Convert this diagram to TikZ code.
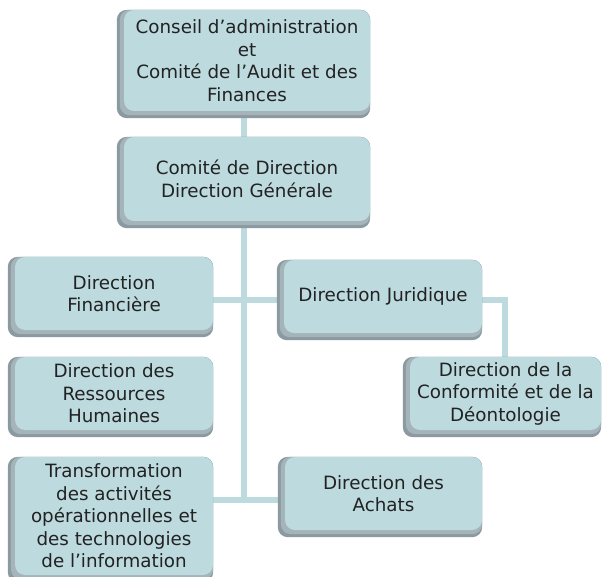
\documentclass[tikz,border=0pt]{standalone}
\usepackage{fontspec}
\setmainfont{DejaVu Sans}
\definecolor{face}{HTML}{BDDADE}
\definecolor{shA}{HTML}{8A9AA0}
\definecolor{shB}{HTML}{A4B4B9}
\definecolor{txt}{HTML}{222222}
\pgfdeclarelayer{bg}
\pgfdeclarelayer{sh}
\pgfsetlayers{bg,sh,main}
\tikzset{
  unitbox/.style={fill=face, rounded corners=10pt, align=center, inner sep=0pt,
    font=\fontsize{18.3}{22.5}\selectfont, text=txt},
  conn/.style={draw=face, line width=6pt},
}
\newcommand\shadowfor[1]{%
  \begin{pgfonlayer}{sh}
    \fill[shA, rounded corners=10pt] ([xshift=-7pt]#1.north west) rectangle ([yshift=-7pt]#1.south east);
    \fill[shB, rounded corners=10pt] ([xshift=-4pt]#1.north west) rectangle ([yshift=-4pt]#1.south east);
  \end{pgfonlayer}}
\begin{document}
\begin{tikzpicture}[x=1pt,y=-1pt]
\useasboundingbox (0,0) rectangle (602,577);

\node[unitbox, minimum width=246pt, minimum height=101pt] (b1) at (247,60.5)
  {Conseil d’administration\\et\\Comité de l’Audit et des\\Finances};
\node[unitbox, minimum width=246pt, minimum height=84pt] (b2) at (247,179)
  {Comité de Direction\\Direction Générale};
\node[unitbox, minimum width=198pt, minimum height=73pt] (fin) at (114,293.5)
  {Direction\\Financière};
\node[unitbox, minimum width=198pt, minimum height=73pt] (rh) at (114,393.5)
  {Direction des\\Ressources\\Humaines};
\node[unitbox, minimum width=198pt, minimum height=118pt] (tr) at (114,516)
  {Transformation\\des activités\\opérationnelles et\\des technologies\\de l’information};
\node[unitbox, minimum width=198pt, minimum height=73pt] (jur) at (383,296.5)
  {Direction Juridique};
\node[unitbox, minimum width=191pt, minimum height=73pt] (conf) at (505.5,393.5)
  {Direction de la\\Conformité et de la\\Déontologie};
\node[unitbox, minimum width=197pt, minimum height=73pt] (ach) at (383.5,493.5)
  {Direction des\\Achats};

\shadowfor{b1}\shadowfor{b2}\shadowfor{fin}\shadowfor{rh}
\shadowfor{tr}\shadowfor{jur}\shadowfor{conf}\shadowfor{ach}

\coordinate (sp) at (244,0);
\coordinate (j1) at (244,300);
\coordinate (j2) at (244,500);
\coordinate (jc) at (505,300);
\begin{pgfonlayer}{bg}
  \fill[white] (0,0) rectangle (602,577);
  \draw[conn] (b1.south -| sp) -- (b2.north -| sp);
  \draw[conn] (b2.south -| sp) -- ([yshift=-3pt]j2);
  \draw[conn] (fin.east |- j1) -- (jur.west |- j1);
  \draw[conn] (tr.east |- j2) -- (ach.west |- j2);
  \draw[conn] (jur.east |- jc) -- (jc) -- (conf.north -| jc);
\end{pgfonlayer}
\end{tikzpicture}
\end{document}
